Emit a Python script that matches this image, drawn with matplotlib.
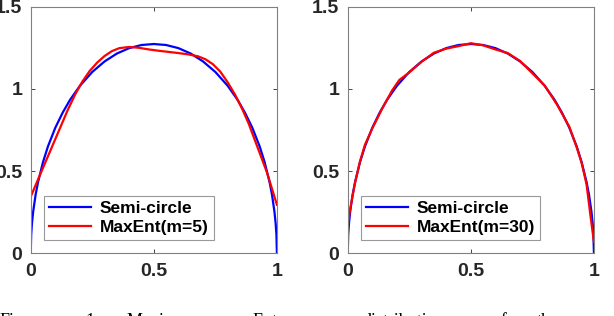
import matplotlib.pyplot as plt

# semi-circle density
x_semi = [0, 0.002, 0.005, 0.01, 0.02, 0.03, 0.05, 0.07, 0.1, 0.13, 0.16, 0.2, 0.25, 0.3,
          0.35, 0.4, 0.45, 0.5, 0.55, 0.6, 0.65, 0.7, 0.75, 0.8, 0.84, 0.87, 0.9, 0.93,
          0.95, 0.97, 0.98, 0.99, 0.995, 0.998, 1]
y_semi = [0, 0.114, 0.180, 0.253, 0.357, 0.434, 0.555, 0.650, 0.764, 0.856, 0.934, 1.019,
          1.103, 1.167, 1.215, 1.248, 1.267, 1.273, 1.267, 1.248, 1.215, 1.167, 1.103,
          1.019, 0.934, 0.856, 0.764, 0.650, 0.555, 0.434, 0.357, 0.253, 0.180, 0.114, 0]

# MaxEnt with m=5 moments
x_m5 = [0, 0.03, 0.06, 0.09, 0.12, 0.15, 0.18, 0.21, 0.24, 0.27, 0.30, 0.33, 0.36, 0.40,
        0.44, 0.48, 0.52, 0.56, 0.60, 0.64, 0.68, 0.71, 0.74, 0.77, 0.80, 0.83, 0.86,
        0.885, 0.92, 0.96, 1.0]
y_m5 = [0.344, 0.45, 0.555, 0.66, 0.765, 0.87, 0.965, 1.045, 1.11, 1.16, 1.20, 1.23,
        1.248, 1.255, 1.25, 1.24, 1.232, 1.225, 1.218, 1.21, 1.198, 1.18, 1.15, 1.105,
        1.04, 0.965, 0.875, 0.79, 0.65, 0.49, 0.295]

# MaxEnt with m=30 moments
x_m30 = [0, 0.01, 0.03, 0.05, 0.07, 0.1, 0.14, 0.18, 0.21, 0.25, 0.3, 0.35, 0.4, 0.45,
         0.5, 0.55, 0.6, 0.65, 0.7, 0.75, 0.8, 0.85, 0.9, 0.93, 0.95, 0.97, 0.985, 1]
y_m30 = [0.17, 0.27, 0.43, 0.56, 0.66, 0.76, 0.88, 0.99, 1.055, 1.10, 1.165, 1.22, 1.245,
         1.26, 1.278, 1.265, 1.24, 1.218, 1.17, 1.095, 1.02, 0.905, 0.77, 0.645, 0.55,
         0.42, 0.24, 0.07]

panels = [(x_m5, y_m5, "MaxEnt(m=5)"), (x_m30, y_m30, "MaxEnt(m=30)")]
lefts = [0.050, 0.5663]

plt.rcParams['font.family'] = ['Liberation Sans', 'DejaVu Sans']

fig = plt.figure(figsize=(6.14, 3.16), dpi=100)

for (xs, ys, lab), left in zip(panels, lefts):
    ax = fig.add_axes([left, 0.1984, 0.4010, 0.7804])
    ax.plot(x_semi, y_semi, color=(0, 0, 1), lw=1.6, label="Semi-circle")
    ax.plot(xs, ys, color=(1, 0, 0), lw=1.6, label=lab)
    ax.set_xlim(0, 1)
    ax.set_ylim(0, 1.5)
    ax.set_xticks([0, 0.5, 1])
    ax.set_xticklabels(["0", "0.5", "1"])
    ax.set_yticks([0, 0.5, 1, 1.5])
    ax.set_yticklabels(["0", "0.5", "1", "1.5"])
    ax.tick_params(direction='in', top=True, right=True, length=3, width=0.6,
                   colors='#262626', labelsize=14)
    ax.tick_params(axis='y', pad=6)
    ax.tick_params(axis='x', pad=7)
    for lbl in ax.get_xticklabels() + ax.get_yticklabels():
        lbl.set_fontweight('bold')
    for s in ax.spines.values():
        s.set_color('#808080')
        s.set_linewidth(0.8)
    leg = ax.legend(loc='lower left', bbox_to_anchor=(0.055, 0.054), borderaxespad=0,
                    prop={'weight': 'bold', 'size': 12.5}, fancybox=False,
                    handlelength=2.4, handletextpad=0.5, borderpad=0.3,
                    labelspacing=0.2)
    leg.get_frame().set_edgecolor('#808080')
    leg.get_frame().set_linewidth(0.8)

# caption of the page, cut off at the bottom
words = [("Figure", 0), ("1:", 85), ("Maximum", 127), ("Entropy", 253),
         ("distribution", 362), ("of", 492), ("the", 537), ("semi", 585)]
for w, px in words:
    fig.text(px / 614, -9.5 / 316, w, family='Liberation Serif', fontsize=13,
             ha='left', va='baseline')

fig.savefig("out.png", dpi=100)
